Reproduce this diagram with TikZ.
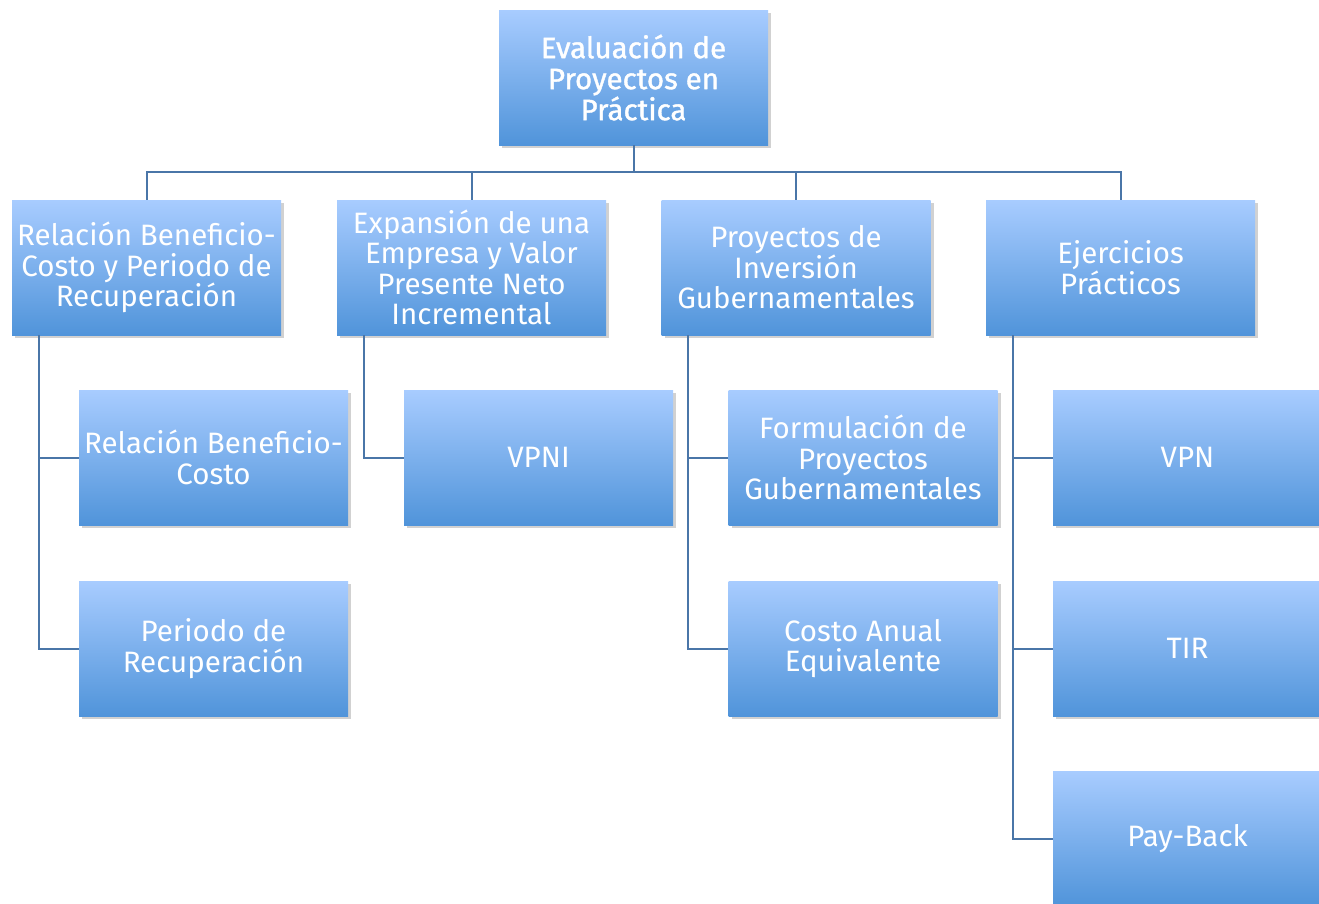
\documentclass[tikz,border=0pt]{standalone}
\usepackage{fontspec}
\setmainfont{Fira Sans}
\newfontface\titlefont[FakeBold=1.3]{Fira Sans}
\usetikzlibrary{shadows}
\definecolor{boxtop}{RGB}{168,204,255}
\definecolor{boxbot}{RGB}{80,148,218}
\definecolor{linec}{RGB}{74,118,168}
\begin{document}
\begin{tikzpicture}[x=1pt,y=-1pt,
  box/.style={rectangle, minimum width=269pt, minimum height=135pt, top color=boxtop, bottom color=boxbot, text=white, align=center, font=\fontsize{29.5}{30.5}\selectfont, inner sep=1pt, drop shadow={shadow xshift=3pt, shadow yshift=-3pt, fill=black, opacity=0.18}},
  conn/.style={draw=linec, line width=2pt}]
\useasboundingbox (0,0) rectangle (1319,903);
\clip (0,0) rectangle (1319,903);
% top
\node[box, font=\fontsize{29.5}{31}\titlefont] (top) at (633.5,77.5) {Evaluación de\\Proyectos en\\Práctica};
% level 1
\node[box] (A) at (146.5,267.5) {Relación Beneficio-\\Costo y Periodo de\\Recuperación};
\node[box] (B) at (471.5,267.5) {Expansión de una\\Empresa y Valor\\Presente Neto\\Incremental};
\node[box] (C) at (796,267.5) {Proyectos de\\Inversión\\Gubernamentales};
\node[box] (D) at (1120.5,267.5) {Ejercicios\\Prácticos};
% level 2
\node[box] (A1) at (213.5,457.5) {Relación Beneficio-\\Costo};
\node[box] (A2) at (213.5,648.5) {Periodo de\\Recuperación};
\node[box] (B1) at (538.5,457.5) {VPNI};
\node[box] (C1) at (863,457.5) {Formulación de\\Proyectos\\Gubernamentales};
\node[box] (C2) at (863,648.5) {Costo Anual\\Equivalente};
\node[box] (D1) at (1187.5,457.5) {VPN};
\node[box] (D2) at (1187.5,648.5) {TIR};
\node[box] (D3) at (1187.5,838.5) {Pay-Back};
% connectors
\coordinate (hub) at (633.5,172);
\draw[conn] (top.south) -- (hub);
\draw[conn] (hub) -| (A.north);
\draw[conn] (hub) -| (B.north);
\draw[conn] (hub) -| (C.north);
\draw[conn] (hub) -| (D.north);
\draw[conn] ([xshift=27pt]A.south west) |- (A1.west);
\draw[conn] ([xshift=27pt]A.south west) |- (A2.west);
\draw[conn] ([xshift=27pt]B.south west) |- (B1.west);
\draw[conn] ([xshift=27pt]C.south west) |- (C1.west);
\draw[conn] ([xshift=27pt]C.south west) |- (C2.west);
\draw[conn] ([xshift=27pt]D.south west) |- (D1.west);
\draw[conn] ([xshift=27pt]D.south west) |- (D2.west);
\draw[conn] ([xshift=27pt]D.south west) |- (D3.west);
\end{tikzpicture}
\end{document}
